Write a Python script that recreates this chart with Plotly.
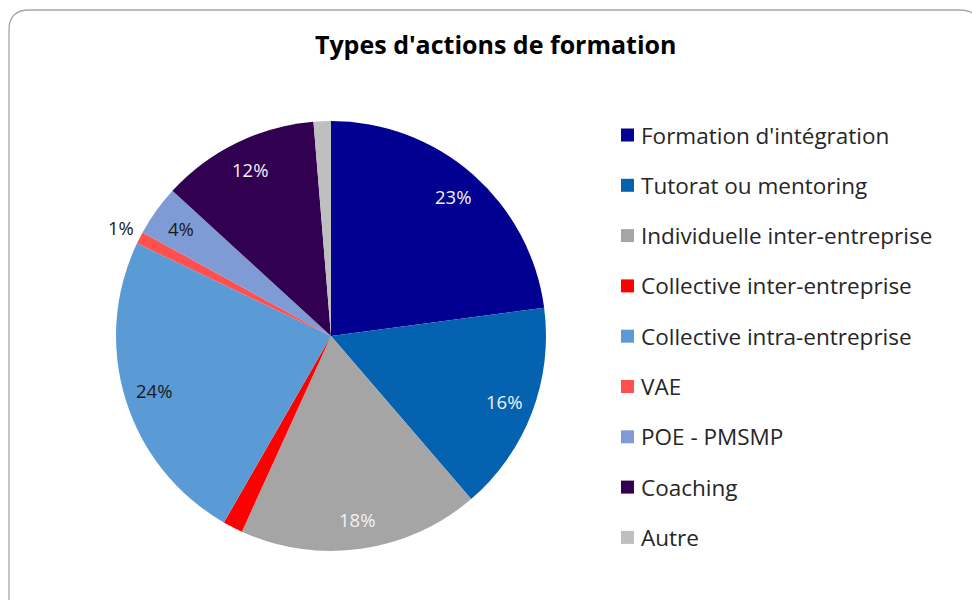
import math
import plotly.graph_objects as go

# Répartition des types d'actions de formation (en %)
categories = [
    "Formation d'intégration",
    "Tutorat ou mentoring",
    "Individuelle inter-entreprise",
    "Collective inter-entreprise",
    "Collective intra-entreprise",
    "VAE",
    "POE - PMSMP",
    "Coaching",
    "Autre",
]
values = [22.9, 15.8, 18.1, 1.5, 23.8, 0.9, 3.8, 11.9, 1.3]

colors = ["#020090", "#0462B0", "#A5A5A5", "#FF0000", "#5B9BD5",
          "#FF5050", "#7E9BD5", "#310050", "#BFBFBF"]
# how each slice label is shown: inside, outside, or hidden
label_mode = ["in", "in", "in", "", "in", "out", "in", "in", ""]
label_color = ["#F2F2F2", "#F2F2F2", "#F2F2F2", "#1A1A1A", "#1A1A1A",
               "#1A1A1A", "#1A1A1A", "#F2F2F2", "#1A1A1A"]

W, H = 972, 600
FONT = "Open Sans, Noto Sans, sans-serif"

# pie geometry in pixels
cx, cy, R = 331, 336, 215

fig = go.Figure(go.Pie(
    labels=categories,
    values=values,
    sort=False,
    direction="clockwise",
    rotation=0,
    marker=dict(colors=colors, line=dict(width=0)),
    textinfo="none",
    hoverinfo="label+percent",
    showlegend=False,
    domain=dict(x=[(cx - R) / W, (cx + R) / W],
                y=[1 - (cy + R) / H, 1 - (cy - R) / H]),
))

# percentage labels placed along each slice's mid-angle
total = sum(values)
annotations = []
cum = 0.0
for v, mode, col in zip(values, label_mode, label_color):
    mid = (cum + v / 2) / total * 2 * math.pi
    cum += v
    if not mode:
        continue
    f = 0.86 if mode == "in" else 1.10
    px = cx + R * f * math.sin(mid)
    py = cy - R * f * math.cos(mid)
    annotations.append(dict(
        x=px / W, y=1 - py / H, xref="paper", yref="paper",
        text=f"{round(v / total * 100)}%", showarrow=False,
        font=dict(family=FONT, size=18.5, color=col),
        xanchor="center", yanchor="middle",
    ))

# legend drawn as coloured squares with labels
leg_x, leg_y0, leg_step, sq = 621, 135, 50.3, 13
shapes = []
for i, (lab, col) in enumerate(zip(categories, colors)):
    y = leg_y0 + i * leg_step
    shapes.append(dict(
        type="rect", xref="paper", yref="paper",
        x0=leg_x / W, x1=(leg_x + sq) / W,
        y0=1 - (y + sq / 2) / H, y1=1 - (y - sq / 2) / H,
        fillcolor=col, line=dict(width=0),
    ))
    annotations.append(dict(
        x=(leg_x + sq + 5) / W, y=1 - y / H, xref="paper", yref="paper",
        text=lab, showarrow=False, xanchor="left", yanchor="middle",
        font=dict(family=FONT, size=22.5, color="#262626"),
    ))

# rounded chart-area border
def P(x, y):
    return f"{x / W:.5f},{1 - y / H:.5f}"

path = (f"M {P(9, 606)} L {P(9, 30)} Q {P(9, 10)} {P(29, 10)} "
        f"L {P(960, 10)} Q {P(980, 10)} {P(980, 30)} L {P(980, 606)}")
shapes.append(dict(type="path", xref="paper", yref="paper", path=path,
                   line=dict(color="#A6A6A6", width=1.3)))

fig.update_layout(
    width=W, height=H,
    margin=dict(l=0, r=0, t=0, b=0),
    paper_bgcolor="white",
    plot_bgcolor="white",
    title=dict(text="<b>Types d'actions de formation</b>",
               x=0.51, xanchor="center", y=1 - 45 / H, yanchor="middle",
               font=dict(family=FONT, size=25, color="#000000")),
    annotations=annotations,
    shapes=shapes,
)

fig.write_html("out.html")
